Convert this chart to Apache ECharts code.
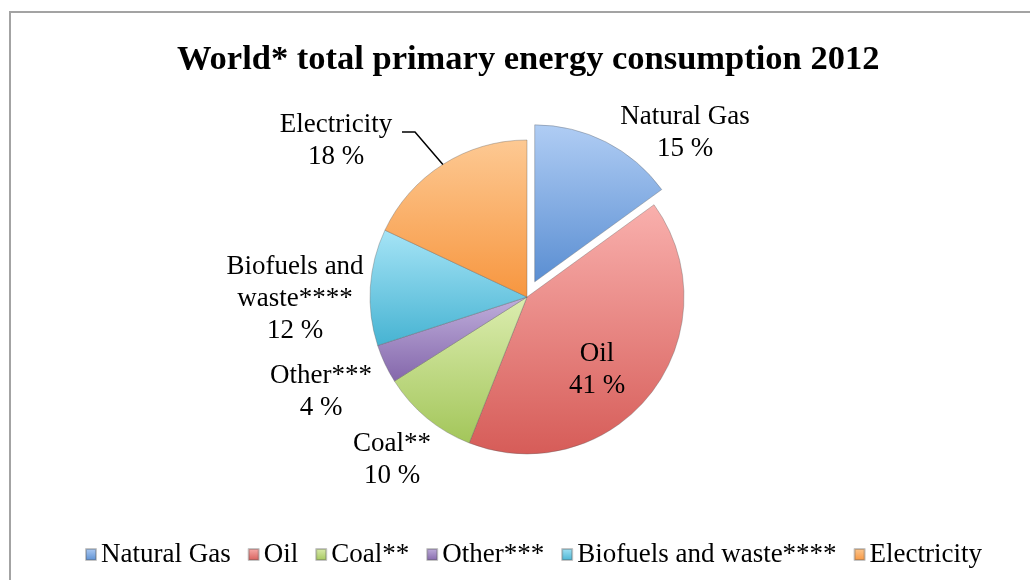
<!DOCTYPE html>
<html>
<head>
<meta charset="utf-8">
<script src="https://cdn.jsdelivr.net/npm/echarts@6/dist/echarts.min.js"></script>
<style>
html,body{margin:0;padding:0;background:#fff;}
#main{width:1030px;height:580px;}
</style>
</head>
<body>
<div id="main"></div>
<script>
const titleText = 'World* total primary energy consumption 2012';
const categories = ['Natural Gas', 'Oil', 'Coal**', 'Other***', 'Biofuels and waste****', 'Electricity'];
const labelNames = ['Natural Gas', 'Oil', 'Coal**', 'Other***', 'Biofuels and\nwaste****', 'Electricity'];
const values = [15, 41, 10, 4, 12, 18];
const colorsLight = ['#b0cdf4', '#f9b0ad', '#dcedb0', '#c0afdc', '#a6e4f6', '#fdc993'];
const colorsDark  = ['#5a8ed2', '#d65c58', '#a3c65a', '#8467ab', '#46b3d2', '#f7963f'];
// label block centres (layout only)
const labelPos = [[685, 133], [597, 370], [392, 460], [321, 392], [295, 299], [336, 141]];

const CX = 527, CY = 297, R = 157;
const total = values.reduce((a, b) => a + b, 0);

const chart = echarts.init(document.getElementById('main'));
const FONT = 'Liberation Serif';

function edgePoint(idx) {
  let before = 0;
  for (let i = 0; i < idx; i++) before += values[i];
  const mid = (before + values[idx] / 2) / total * Math.PI * 2;
  return [CX + R * Math.sin(mid), CY - R * Math.cos(mid)];
}

const sliceData = categories.map((c, i) => ({
  name: c,
  value: values[i],
  selected: i === 0,
  itemStyle: {
    color: {
      type: 'linear', x: 0, y: 0, x2: 0, y2: 1,
      colorStops: [{offset: 0, color: colorsLight[i]}, {offset: 1, color: colorsDark[i]}]
    }
  }
}));

const labelData = categories.map((c, i) => ({
  name: c,
  value: values[i],
  labelLine: {show: i === 5}
}));

chart.setOption({
  backgroundColor: '#fff',
  animation: false,
  graphic: [{
    type: 'rect', silent: true,
    shape: {x: 10, y: 12, width: 1200, height: 800},
    style: {fill: 'none', stroke: '#a3a3a3', lineWidth: 2}
  }],
  title: {
    text: titleText,
    left: 172,
    top: 38,
    textStyle: {fontFamily: FONT, fontWeight: 'bold', fontSize: 34.5, color: '#000'}
  },
  legend: {
    bottom: 7,
    left: 80,
    itemWidth: 10,
    itemHeight: 11,
    itemGap: 17,
    icon: 'rect',
    textStyle: {fontFamily: FONT, fontSize: 27, color: '#000'},
    data: categories
  },
  series: [{
    type: 'pie',
    center: [CX, CY],
    radius: [0, R],
    startAngle: 90,
    clockwise: true,
    selectedMode: 'single',
    selectedOffset: 17,
    itemStyle: {borderColor: 'rgba(90,90,90,0.35)', borderWidth: 1},
    emphasis: {disabled: true},
    label: {show: false},
    labelLine: {show: false},
    data: sliceData
  }, {
    type: 'pie',
    center: [CX, CY],
    radius: [0, R],
    startAngle: 90,
    clockwise: true,
    silent: true,
    selectedMode: false,
    avoidLabelOverlap: false,
    z: 3,
    itemStyle: {color: 'rgba(0,0,0,0)', borderWidth: 0},
    emphasis: {disabled: true},
    label: {
      show: true,
      position: 'outside',
      fontFamily: FONT,
      fontSize: 27,
      lineHeight: 32,
      color: '#000',
      formatter: p => labelNames[p.dataIndex] + '\n' + Math.round(p.percent) + ' %'
    },
    labelLine: {show: false, lineStyle: {color: '#000', width: 1.5}, length: 10, length2: 10},
    labelLayout: function (p) {
      const i = p.dataIndex;
      const out = {x: labelPos[i][0], y: labelPos[i][1], align: 'center', verticalAlign: 'middle'};
      if (i === 5) {
        const e = edgePoint(5);
        out.labelLinePoints = [e, [415, 132], [402, 132]];
      }
      return out;
    },
    data: labelData
  }]
});
</script>
</body>
</html>
